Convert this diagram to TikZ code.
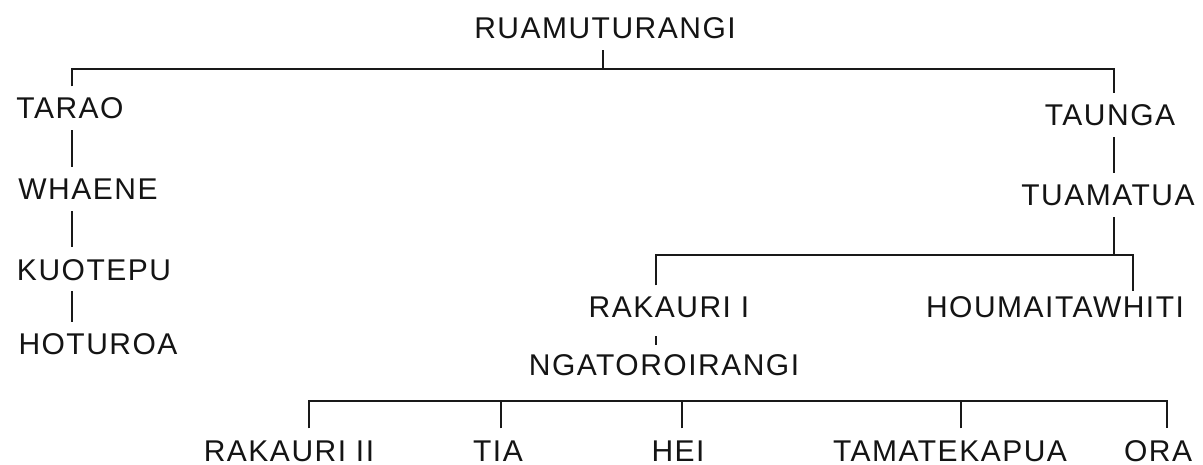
\documentclass[tikz,border=0pt]{standalone}
\usepackage{fontspec}
\setmainfont{Liberation Sans}[LetterSpace=5]
\begin{document}
\begin{tikzpicture}[x=1pt,y=-1pt,
  person/.style={anchor=base, inner xsep=0pt, inner ysep=11pt,
    text height=21.5pt, text depth=0pt, text=black!92,
    font=\fontsize{30}{36}\selectfont},
  link/.style={draw=black!90, line width=1.4pt}]
\useasboundingbox (0,0) rectangle (1203,465);

% people
\node[person] (ruam)     at (605,39)  {RUAMUTURANGI};
\node[person] (tarao)    at (70,119)  {TARAO};
\node[person] (whaene)   at (88,200)  {WHAENE};
\node[person] (kuotepu)  at (94,280)  {KUOTEPU};
\node[person] (hoturoa)  at (98,355)  {HOTUROA};
\node[person] (taunga)   at (1110,126) {TAUNGA};
\node[person] (tuamatua) at (1108,206) {TUAMATUA};
\node[person] (rakI)     at (669,318) {RAKAURI I};
\node[person] (houm)     at (1055,318) {HOUMAITAWHITI};
\node[person] (ngat)     at (664,375) {NGATOROIRANGI};
\node[person] (rakII)    at (289,461) {RAKAURI II};
\node[person] (tia)      at (498,461) {TIA};
\node[person] (hei)      at (678,461) {HEI};
\node[person] (tama)     at (950,461) {TAMATEKAPUA};
\node[person] (ora)      at (1158,461) {ORA};

% columns and bar levels
\coordinate (cL) at (72,0);
\coordinate (cT) at (603,0);
\coordinate (cR) at (1114,0);
\coordinate (cK) at (656,0);
\coordinate (cH) at (1133,0);
\coordinate (b1) at (309,0);
\coordinate (b2) at (501,0);
\coordinate (b3) at (682,0);
\coordinate (b4) at (961,0);
\coordinate (b5) at (1167,0);
\coordinate (topbar) at (0,69);
\coordinate (midbar) at (0,255);
\coordinate (lowbar) at (0,401);

% first generation
\draw[link] (ruam.south -| cT) -- (cT |- topbar);
\draw[link] (tarao.north -| cL) -- (cL |- topbar) -- (cR |- topbar) -- (taunga.north -| cR);

% left line
\draw[link] (tarao.south -| cL) -- (whaene.north -| cL);
\draw[link] (whaene.south -| cL) -- (kuotepu.north -| cL);
\draw[link] (kuotepu.south -| cL) -- (hoturoa.north -| cL);

% right line
\draw[link] (taunga.south -| cR) -- (tuamatua.north -| cR);
\draw[link] (tuamatua.south -| cR) -- (cR |- midbar);
\draw[link] (rakI.north -| cK) -- (cK |- midbar) -- (cH |- midbar) -- ([yshift=-6pt]houm.north -| cH);
\draw[link, shorten <=7pt, shorten >=-3pt] (rakI.south -| cK) -- (ngat.north -| cK);

% the five sons on the lowest bar
\draw[link] (rakII.north -| b1) -- (b1 |- lowbar) -- (b5 |- lowbar) -- (ora.north -| b5);
\draw[link] (tia.north -| b2) -- (b2 |- lowbar);
\draw[link] (hei.north -| b3) -- (b3 |- lowbar);
\draw[link] (tama.north -| b4) -- (b4 |- lowbar);
\end{tikzpicture}
\end{document}
